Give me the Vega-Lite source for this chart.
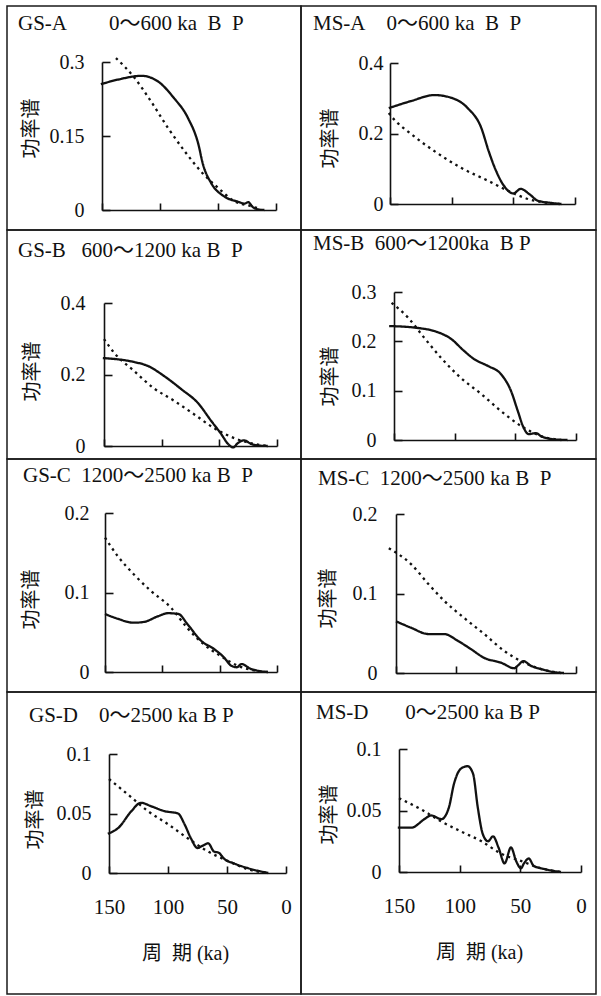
{
"$schema": "https://vega.github.io/schema/vega-lite/v6.json",
"padding": {"left": 6, "top": 5, "right": 0, "bottom": 0},
"background": "white",
"datasets": {"d": [
{"p":"GS-A","s":"a","x":151,"y":0.255},{"p":"GS-A","s":"a","x":135,"y":0.265},{"p":"GS-A","s":"a","x":116,"y":0.272},{"p":"GS-A","s":"a","x":102,"y":0.261},{"p":"GS-A","s":"a","x":88,"y":0.227},{"p":"GS-A","s":"a","x":76,"y":0.187},{"p":"GS-A","s":"a","x":67,"y":0.134},{"p":"GS-A","s":"a","x":63,"y":0.093},{"p":"GS-A","s":"a","x":56,"y":0.055},{"p":"GS-A","s":"a","x":45,"y":0.028},{"p":"GS-A","s":"a","x":33,"y":0.017},{"p":"GS-A","s":"a","x":27,"y":0.013},{"p":"GS-A","s":"a","x":24,"y":0.016},{"p":"GS-A","s":"a","x":20,"y":0.006},{"p":"GS-A","s":"a","x":15,"y":0.001},{"p":"GS-A","s":"a","x":10,"y":0},
{"p":"GS-A","s":"b","x":138,"y":0.308},{"p":"GS-A","s":"b","x":122,"y":0.268},{"p":"GS-A","s":"b","x":108,"y":0.221},{"p":"GS-A","s":"b","x":93,"y":0.166},{"p":"GS-A","s":"b","x":79,"y":0.12},{"p":"GS-A","s":"b","x":65,"y":0.079},{"p":"GS-A","s":"b","x":50,"y":0.045},{"p":"GS-A","s":"b","x":36,"y":0.018},{"p":"GS-A","s":"b","x":22,"y":0.008},{"p":"GS-A","s":"b","x":13,"y":0.002},
{"p":"MS-A","s":"a","x":151,"y":0.272},{"p":"MS-A","s":"a","x":133,"y":0.292},{"p":"MS-A","s":"a","x":114,"y":0.309},{"p":"MS-A","s":"a","x":100,"y":0.301},{"p":"MS-A","s":"a","x":87,"y":0.272},{"p":"MS-A","s":"a","x":76,"y":0.216},{"p":"MS-A","s":"a","x":70,"y":0.15},{"p":"MS-A","s":"a","x":64,"y":0.094},{"p":"MS-A","s":"a","x":57.5,"y":0.051},{"p":"MS-A","s":"a","x":50,"y":0.03},{"p":"MS-A","s":"a","x":44,"y":0.043},{"p":"MS-A","s":"a","x":37,"y":0.028},{"p":"MS-A","s":"a","x":30,"y":0.009},{"p":"MS-A","s":"a","x":19,"y":0.003},{"p":"MS-A","s":"a","x":11,"y":0},
{"p":"MS-A","s":"b","x":151,"y":0.258},{"p":"MS-A","s":"b","x":148,"y":0.245},{"p":"MS-A","s":"b","x":133,"y":0.199},{"p":"MS-A","s":"b","x":114,"y":0.15},{"p":"MS-A","s":"b","x":92,"y":0.102},{"p":"MS-A","s":"b","x":70,"y":0.065},{"p":"MS-A","s":"b","x":54,"y":0.037},{"p":"MS-A","s":"b","x":38,"y":0.014},{"p":"MS-A","s":"b","x":22,"y":0.003},{"p":"MS-A","s":"b","x":12,"y":0},
{"p":"GS-B","s":"a","x":151,"y":0.246},{"p":"GS-B","s":"a","x":124,"y":0.235},{"p":"GS-B","s":"a","x":112,"y":0.224},{"p":"GS-B","s":"a","x":98,"y":0.196},{"p":"GS-B","s":"a","x":83,"y":0.159},{"p":"GS-B","s":"a","x":68.5,"y":0.12},{"p":"GS-B","s":"a","x":57,"y":0.07},{"p":"GS-B","s":"a","x":48.5,"y":0.034},{"p":"GS-B","s":"a","x":42.5,"y":0.006},{"p":"GS-B","s":"a","x":38,"y":-0.004},{"p":"GS-B","s":"a","x":34,"y":0.008},{"p":"GS-B","s":"a","x":28.6,"y":0.016},{"p":"GS-B","s":"a","x":22.5,"y":0.006},{"p":"GS-B","s":"a","x":15,"y":0.001},{"p":"GS-B","s":"a","x":8,"y":0},
{"p":"GS-B","s":"b","x":150,"y":0.299},{"p":"GS-B","s":"b","x":141,"y":0.26},{"p":"GS-B","s":"b","x":124,"y":0.21},{"p":"GS-B","s":"b","x":107,"y":0.162},{"p":"GS-B","s":"b","x":89,"y":0.126},{"p":"GS-B","s":"b","x":72,"y":0.089},{"p":"GS-B","s":"b","x":54.6,"y":0.05},{"p":"GS-B","s":"b","x":37,"y":0.022},{"p":"GS-B","s":"b","x":20,"y":0.006},{"p":"GS-B","s":"b","x":8,"y":0},
{"p":"MS-B","s":"a","x":154,"y":0.231},{"p":"MS-B","s":"a","x":130,"y":0.227},{"p":"MS-B","s":"a","x":117,"y":0.221},{"p":"MS-B","s":"a","x":103,"y":0.205},{"p":"MS-B","s":"a","x":92,"y":0.18},{"p":"MS-B","s":"a","x":84,"y":0.164},{"p":"MS-B","s":"a","x":72.5,"y":0.15},{"p":"MS-B","s":"a","x":62,"y":0.134},{"p":"MS-B","s":"a","x":53.5,"y":0.099},{"p":"MS-B","s":"a","x":48,"y":0.059},{"p":"MS-B","s":"a","x":43,"y":0.024},{"p":"MS-B","s":"a","x":39,"y":0.012},{"p":"MS-B","s":"a","x":33,"y":0.014},{"p":"MS-B","s":"a","x":29,"y":0.008},{"p":"MS-B","s":"a","x":20.6,"y":0.002},{"p":"MS-B","s":"a","x":7,"y":0},
{"p":"MS-B","s":"b","x":152,"y":0.278},{"p":"MS-B","s":"b","x":138,"y":0.247},{"p":"MS-B","s":"b","x":125,"y":0.207},{"p":"MS-B","s":"b","x":111,"y":0.166},{"p":"MS-B","s":"b","x":95,"y":0.126},{"p":"MS-B","s":"b","x":78,"y":0.093},{"p":"MS-B","s":"b","x":62,"y":0.059},{"p":"MS-B","s":"b","x":45,"y":0.028},{"p":"MS-B","s":"b","x":29,"y":0.008},{"p":"MS-B","s":"b","x":12,"y":0},
{"p":"GS-C","s":"a","x":150,"y":0.073},{"p":"GS-C","s":"a","x":139,"y":0.067},{"p":"GS-C","s":"a","x":125,"y":0.062},{"p":"GS-C","s":"a","x":116,"y":0.063},{"p":"GS-C","s":"a","x":104,"y":0.07},{"p":"GS-C","s":"a","x":95,"y":0.074},{"p":"GS-C","s":"a","x":86,"y":0.073},{"p":"GS-C","s":"a","x":78,"y":0.06},{"p":"GS-C","s":"a","x":66,"y":0.039},{"p":"GS-C","s":"a","x":55,"y":0.029},{"p":"GS-C","s":"a","x":46,"y":0.018},{"p":"GS-C","s":"a","x":40,"y":0.008},{"p":"GS-C","s":"a","x":35,"y":0.006},{"p":"GS-C","s":"a","x":31,"y":0.01},{"p":"GS-C","s":"a","x":23,"y":0.004},{"p":"GS-C","s":"a","x":8,"y":0},
{"p":"GS-C","s":"b","x":150,"y":0.169},{"p":"GS-C","s":"b","x":139,"y":0.146},{"p":"GS-C","s":"b","x":125,"y":0.123},{"p":"GS-C","s":"b","x":110,"y":0.102},{"p":"GS-C","s":"b","x":92.5,"y":0.081},{"p":"GS-C","s":"b","x":78,"y":0.055},{"p":"GS-C","s":"b","x":64,"y":0.035},{"p":"GS-C","s":"b","x":49,"y":0.02},{"p":"GS-C","s":"b","x":34.5,"y":0.008},{"p":"GS-C","s":"b","x":20,"y":0.002},{"p":"GS-C","s":"b","x":8,"y":0},
{"p":"MS-C","s":"a","x":150,"y":0.065},{"p":"MS-C","s":"a","x":137.5,"y":0.057},{"p":"MS-C","s":"a","x":123,"y":0.049},{"p":"MS-C","s":"a","x":110,"y":0.049},{"p":"MS-C","s":"a","x":98,"y":0.04},{"p":"MS-C","s":"a","x":87.5,"y":0.03},{"p":"MS-C","s":"a","x":76.5,"y":0.019},{"p":"MS-C","s":"a","x":62.5,"y":0.013},{"p":"MS-C","s":"a","x":51.5,"y":0.006},{"p":"MS-C","s":"a","x":48,"y":0.01},{"p":"MS-C","s":"a","x":44,"y":0.015},{"p":"MS-C","s":"a","x":37.5,"y":0.009},{"p":"MS-C","s":"a","x":29,"y":0.005},{"p":"MS-C","s":"a","x":18,"y":0.001},{"p":"MS-C","s":"a","x":10,"y":0},
{"p":"MS-C","s":"b","x":156,"y":0.157},{"p":"MS-C","s":"b","x":137.5,"y":0.137},{"p":"MS-C","s":"b","x":123,"y":0.112},{"p":"MS-C","s":"b","x":110,"y":0.091},{"p":"MS-C","s":"b","x":93,"y":0.069},{"p":"MS-C","s":"b","x":76.5,"y":0.049},{"p":"MS-C","s":"b","x":60,"y":0.028},{"p":"MS-C","s":"b","x":46,"y":0.015},{"p":"MS-C","s":"b","x":29,"y":0.005},{"p":"MS-C","s":"b","x":12.5,"y":0},
{"p":"GS-D","s":"a","x":151,"y":0.033},{"p":"GS-D","s":"a","x":142,"y":0.038},{"p":"GS-D","s":"a","x":131,"y":0.052},{"p":"GS-D","s":"a","x":123,"y":0.059},{"p":"GS-D","s":"a","x":114,"y":0.056},{"p":"GS-D","s":"a","x":103,"y":0.052},{"p":"GS-D","s":"a","x":91.5,"y":0.05},{"p":"GS-D","s":"a","x":86,"y":0.041},{"p":"GS-D","s":"a","x":80.5,"y":0.029},{"p":"GS-D","s":"a","x":75,"y":0.021},{"p":"GS-D","s":"a","x":70.5,"y":0.023},{"p":"GS-D","s":"a","x":66,"y":0.025},{"p":"GS-D","s":"a","x":61,"y":0.018},{"p":"GS-D","s":"a","x":57,"y":0.017},{"p":"GS-D","s":"a","x":52.5,"y":0.012},{"p":"GS-D","s":"a","x":44,"y":0.008},{"p":"GS-D","s":"a","x":32,"y":0.004},{"p":"GS-D","s":"a","x":15,"y":0},
{"p":"GS-D","s":"b","x":150,"y":0.079},{"p":"GS-D","s":"b","x":134,"y":0.066},{"p":"GS-D","s":"b","x":117,"y":0.052},{"p":"GS-D","s":"b","x":100,"y":0.041},{"p":"GS-D","s":"b","x":83,"y":0.029},{"p":"GS-D","s":"b","x":66,"y":0.018},{"p":"GS-D","s":"b","x":49,"y":0.01},{"p":"GS-D","s":"b","x":32,"y":0.003},{"p":"GS-D","s":"b","x":15,"y":0},
{"p":"MS-D","s":"a","x":151,"y":0.036},{"p":"MS-D","s":"a","x":140,"y":0.036},{"p":"MS-D","s":"a","x":129,"y":0.043},{"p":"MS-D","s":"a","x":123.6,"y":0.046},{"p":"MS-D","s":"a","x":115,"y":0.043},{"p":"MS-D","s":"a","x":109,"y":0.052},{"p":"MS-D","s":"a","x":104.6,"y":0.072},{"p":"MS-D","s":"a","x":99,"y":0.084},{"p":"MS-D","s":"a","x":93.5,"y":0.086},{"p":"MS-D","s":"a","x":89,"y":0.08},{"p":"MS-D","s":"a","x":85,"y":0.052},{"p":"MS-D","s":"a","x":81,"y":0.031},{"p":"MS-D","s":"a","x":76.6,"y":0.025},{"p":"MS-D","s":"a","x":72.5,"y":0.029},{"p":"MS-D","s":"a","x":68,"y":0.02},{"p":"MS-D","s":"a","x":63,"y":0.007},{"p":"MS-D","s":"a","x":57.7,"y":0.02},{"p":"MS-D","s":"a","x":53.5,"y":0.009},{"p":"MS-D","s":"a","x":49.5,"y":0.003},{"p":"MS-D","s":"a","x":47,"y":0.007},{"p":"MS-D","s":"a","x":43,"y":0.011},{"p":"MS-D","s":"a","x":39,"y":0.005},{"p":"MS-D","s":"a","x":30.5,"y":0.0025},{"p":"MS-D","s":"a","x":16.5,"y":0},
{"p":"MS-D","s":"b","x":150,"y":0.06},{"p":"MS-D","s":"b","x":132,"y":0.051},{"p":"MS-D","s":"b","x":115,"y":0.041},{"p":"MS-D","s":"b","x":99,"y":0.033},{"p":"MS-D","s":"b","x":82,"y":0.025},{"p":"MS-D","s":"b","x":66,"y":0.015},{"p":"MS-D","s":"b","x":49.5,"y":0.009},{"p":"MS-D","s":"b","x":33,"y":0.003},{"p":"MS-D","s":"b","x":16.5,"y":0}
]},
"columns": 2,
"spacing": 0,
"bounds": "flush",
"concat": [
{"width": 294, "height": 224,
 "title": {"text": "GS-A\u00a0\u00a0\u00a0\u00a0\u00a0\u00a0\u00a0\u00a00～600 ka\u00a0\u00a0B\u00a0\u00a0P", "dx": 11, "offset": -28},
 "data": {"name": "d"}, "transform": [{"filter": "datum.p === 'GS-A'"}],
 "mark": {"type": "line", "interpolate": "monotone", "color": "#111", "strokeWidth": 2.3},
 "encoding": {
  "x": {"field": "x", "type": "quantitative", "scale": {"domain": [0, 150], "range": [269, 95], "nice": false, "zero": false}, "axis": {"values": [150, 100, 50, 0], "tickSize": -7, "labels": false, "title": null, "offset": -20}},
  "y": {"field": "y", "type": "quantitative", "scale": {"domain": [0, 0.3], "range": [204, 56], "nice": false}, "axis": {"values": [0, 0.15, 0.3], "format": ".2~f", "tickSize": -8, "labelPadding": 26, "offset": -95, "title": "功率谱", "titleFont": "Noto Sans CJK SC", "titleFontSize": 20, "titleX": -71, "titleY": 122, "titleBaseline": "middle", "titleAngle": -90}},
  "strokeDash": {"field": "s", "type": "nominal", "scale": {"domain": ["a", "b"], "range": [[1, 0], [2.5, 4]]}, "legend": null}
 }},
{"width": 295, "height": 224,
 "title": {"text": "MS-A\u00a0\u00a0\u00a0\u00a00～600 ka\u00a0\u00a0B\u00a0\u00a0P", "dx": 12, "offset": -28},
 "data": {"name": "d"}, "transform": [{"filter": "datum.p === 'MS-A'"}],
 "mark": {"type": "line", "interpolate": "monotone", "color": "#111", "strokeWidth": 2.3},
 "encoding": {
  "x": {"field": "x", "type": "quantitative", "scale": {"domain": [0, 150], "range": [274, 89], "nice": false, "zero": false}, "axis": {"values": [150, 100, 50, 0], "tickSize": -7, "labels": false, "title": null, "offset": -26}},
  "y": {"field": "y", "type": "quantitative", "scale": {"domain": [0, 0.4], "range": [198, 57], "nice": false}, "axis": {"values": [0, 0.2, 0.4], "format": ".2~f", "tickSize": -8, "labelPadding": 15, "offset": -89, "title": "功率谱", "titleFont": "Noto Sans CJK SC", "titleFontSize": 20, "titleX": -60, "titleY": 132, "titleBaseline": "middle", "titleAngle": -90}},
  "strokeDash": {"field": "s", "type": "nominal", "scale": {"domain": ["a", "b"], "range": [[1, 0], [2.5, 4]]}, "legend": null}
 }},
{"width": 294, "height": 229,
 "title": {"text": "GS-B\u00a0\u00a0\u00a0600～1200 ka\u00a0B\u00a0\u00a0P", "dx": 11, "offset": -31},
 "data": {"name": "d"}, "transform": [{"filter": "datum.p === 'GS-B'"}],
 "mark": {"type": "line", "interpolate": "monotone", "color": "#111", "strokeWidth": 2.3},
 "encoding": {
  "x": {"field": "x", "type": "quantitative", "scale": {"domain": [0, 150], "range": [270, 97], "nice": false, "zero": false}, "axis": {"values": [150, 100, 50, 0], "tickSize": -7, "labels": false, "title": null, "offset": -13}},
  "y": {"field": "y", "type": "quantitative", "scale": {"domain": [0, 0.4], "range": [216, 73], "nice": false}, "axis": {"values": [0, 0.2, 0.4], "format": ".2~f", "tickSize": -8, "labelPadding": 27, "offset": -97, "title": "功率谱", "titleFont": "Noto Sans CJK SC", "titleFontSize": 20, "titleX": -72, "titleY": 141, "titleBaseline": "middle", "titleAngle": -90}},
  "strokeDash": {"field": "s", "type": "nominal", "scale": {"domain": ["a", "b"], "range": [[1, 0], [2.5, 4]]}, "legend": null}
 }},
{"width": 295, "height": 229,
 "title": {"text": "MS-B\u00a0\u00a0600～1200ka\u00a0\u00a0B\u00a0P", "dx": 12, "offset": -24},
 "data": {"name": "d"}, "transform": [{"filter": "datum.p === 'MS-B'"}],
 "mark": {"type": "line", "interpolate": "monotone", "color": "#111", "strokeWidth": 2.3},
 "encoding": {
  "x": {"field": "x", "type": "quantitative", "scale": {"domain": [0, 150], "range": [275, 93], "nice": false, "zero": false}, "axis": {"values": [150, 100, 50, 0], "tickSize": -7, "labels": false, "title": null, "offset": -19}},
  "y": {"field": "y", "type": "quantitative", "scale": {"domain": [0, 0.3], "range": [210, 62], "nice": false}, "axis": {"values": [0, 0.1, 0.2, 0.3], "format": ".2~f", "tickSize": -8, "labelPadding": 26, "offset": -93, "title": "功率谱", "titleFont": "Noto Sans CJK SC", "titleFontSize": 20, "titleX": -64, "titleY": 146, "titleBaseline": "middle", "titleAngle": -90}},
  "strokeDash": {"field": "s", "type": "nominal", "scale": {"domain": ["a", "b"], "range": [[1, 0], [2.5, 4]]}, "legend": null}
 }},
{"width": 294, "height": 233,
 "title": {"text": "GS-C\u00a0\u00a01200～2500 ka\u00a0B\u00a0\u00a0P", "dx": 16, "offset": -27},
 "data": {"name": "d"}, "transform": [{"filter": "datum.p === 'GS-C'"}],
 "mark": {"type": "line", "interpolate": "monotone", "color": "#111", "strokeWidth": 2.3},
 "encoding": {
  "x": {"field": "x", "type": "quantitative", "scale": {"domain": [0, 150], "range": [270, 98], "nice": false, "zero": false}, "axis": {"values": [150, 100, 50, 0], "tickSize": -7, "labels": false, "title": null, "offset": -20}},
  "y": {"field": "y", "type": "quantitative", "scale": {"domain": [0, 0.2], "range": [213, 54], "nice": false}, "axis": {"values": [0, 0.1, 0.2], "format": ".2~f", "tickSize": -8, "labelPadding": 24, "offset": -98, "title": "功率谱", "titleFont": "Noto Sans CJK SC", "titleFontSize": 20, "titleX": -74, "titleY": 140, "titleBaseline": "middle", "titleAngle": -90}},
  "strokeDash": {"field": "s", "type": "nominal", "scale": {"domain": ["a", "b"], "range": [[1, 0], [2.5, 4]]}, "legend": null}
 }},
{"width": 295, "height": 233,
 "title": {"text": "MS-C\u00a0\u00a01200～2500 ka\u00a0B\u00a0\u00a0P", "dx": 17, "offset": -30},
 "data": {"name": "d"}, "transform": [{"filter": "datum.p === 'MS-C'"}],
 "mark": {"type": "line", "interpolate": "monotone", "color": "#111", "strokeWidth": 2.3},
 "encoding": {
  "x": {"field": "x", "type": "quantitative", "scale": {"domain": [0, 150], "range": [275, 95], "nice": false, "zero": false}, "axis": {"values": [150, 100, 50, 0], "tickSize": -7, "labels": false, "title": null, "offset": -19}},
  "y": {"field": "y", "type": "quantitative", "scale": {"domain": [0, 0.2], "range": [214, 55], "nice": false}, "axis": {"values": [0, 0.1, 0.2], "format": ".2~f", "tickSize": -8, "labelPadding": 27, "offset": -95, "title": "功率谱", "titleFont": "Noto Sans CJK SC", "titleFontSize": 20, "titleX": -68, "titleY": 139, "titleBaseline": "middle", "titleAngle": -90}},
  "strokeDash": {"field": "s", "type": "nominal", "scale": {"domain": ["a", "b"], "range": [[1, 0], [2.5, 4]]}, "legend": null}
 }},
{"width": 294, "height": 302,
 "title": {"text": "GS-D\u00a0\u00a0\u00a0\u00a00～2500 ka\u00a0B\u00a0P", "dx": 22, "offset": -34},
 "data": {"name": "d"}, "transform": [{"filter": "datum.p === 'GS-D'"}],
 "mark": {"type": "line", "interpolate": "monotone", "color": "#111", "strokeWidth": 2.3},
 "encoding": {
  "x": {"field": "x", "type": "quantitative", "scale": {"domain": [0, 150], "range": [279, 102], "nice": false, "zero": false}, "axis": {"values": [150, 100, 50, 0], "format": "d", "tickSize": -7, "labelFontSize": 21, "labelPadding": 30, "offset": -121, "title": "周\u00a0\u00a0期 (ka)", "titleFont": "Liberation Serif, Noto Sans CJK SC", "titleFontSize": 20, "titlePadding": 26, "titleX": 178}},
  "y": {"field": "y", "type": "quantitative", "scale": {"domain": [0, 0.1], "range": [181, 62], "nice": false}, "axis": {"values": [0, 0.05, 0.1], "format": ".2~f", "tickSize": -8, "labelPadding": 26, "offset": -102, "title": "功率谱", "titleFont": "Noto Sans CJK SC", "titleFontSize": 20, "titleX": -74, "titleY": 127, "titleBaseline": "middle", "titleAngle": -90}},
  "strokeDash": {"field": "s", "type": "nominal", "scale": {"domain": ["a", "b"], "range": [[1, 0], [2.5, 4]]}, "legend": null}
 }},
{"width": 295, "height": 302,
 "title": {"text": "MS-D\u00a0\u00a0\u00a0\u00a0\u00a0\u00a0\u00a00～2500 ka\u00a0B\u00a0P", "dx": 15, "offset": -31},
 "data": {"name": "d"}, "transform": [{"filter": "datum.p === 'MS-D'"}],
 "mark": {"type": "line", "interpolate": "monotone", "color": "#111", "strokeWidth": 2.3},
 "encoding": {
  "x": {"field": "x", "type": "quantitative", "scale": {"domain": [0, 150], "range": [280, 98], "nice": false, "zero": false}, "axis": {"values": [150, 100, 50, 0], "format": "d", "tickSize": -7, "labelFontSize": 21, "labelPadding": 30, "offset": -122, "title": "周\u00a0\u00a0期 (ka)", "titleFont": "Liberation Serif, Noto Sans CJK SC", "titleFontSize": 20, "titlePadding": 26, "titleX": 178}},
  "y": {"field": "y", "type": "quantitative", "scale": {"domain": [0, 0.1], "range": [180, 57], "nice": false}, "axis": {"values": [0, 0.05, 0.1], "format": ".2~f", "tickSize": -8, "labelPadding": 26, "offset": -98, "title": "功率谱", "titleFont": "Noto Sans CJK SC", "titleFontSize": 20, "titleX": -70, "titleY": 122, "titleBaseline": "middle", "titleAngle": -90}},
  "strokeDash": {"field": "s", "type": "nominal", "scale": {"domain": ["a", "b"], "range": [[1, 0], [2.5, 4]]}, "legend": null}
 }}
],
"config": {
 "view": {"stroke": "#1a1a1a", "strokeWidth": 1.5},
 "axis": {"grid": false, "domainColor": "#111", "domainWidth": 1.6, "tickColor": "#111", "tickWidth": 1.6, "labelFont": "Liberation Serif", "labelColor": "#111", "labelFontSize": 20, "labelFlush": false, "labelOverlap": false, "titleColor": "#111", "titleFontWeight": "normal"},
 "title": {"font": "Liberation Serif, Noto Sans CJK SC", "fontSize": 21, "fontWeight": "normal", "color": "#111", "anchor": "start", "frame": "group", "baseline": "alphabetic"}
}
}
